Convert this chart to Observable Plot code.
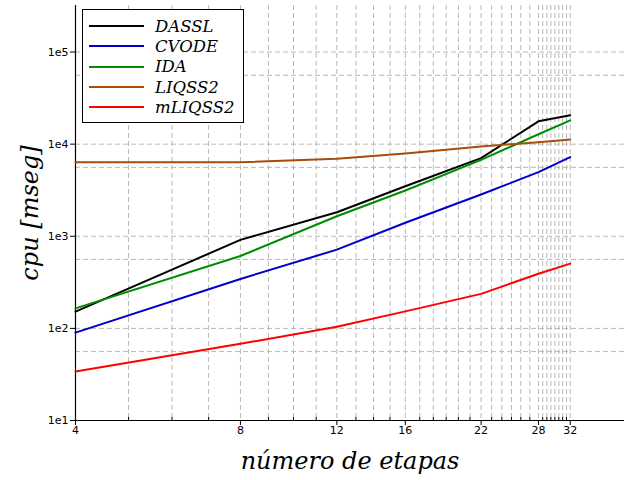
<!DOCTYPE html>
<html>
<head>
<meta charset="utf-8">
<script src="https://cdn.jsdelivr.net/npm/d3@7"></script>
<script src="https://cdn.jsdelivr.net/npm/@observablehq/plot@0.6"></script>
<style>
  html, body { margin: 0; padding: 0; background: #fff; }
  #wrap { position: relative; width: 624px; height: 480px; }
  #legend {
    position: absolute; left: 82px; top: 9px; width: 162px; height: 114px;
    box-sizing: border-box; border: 1px solid #000; background: #fff;
    padding-top: 6px; padding-left: 6px;
    font-family: "DejaVu Serif", serif; font-style: italic; font-size: 16.5px;
  }
  .row { display: flex; align-items: center; height: 20.3px; }
  .sw { width: 55px; height: 2px; margin-right: 11px; }
</style>
</head>
<body>
<div id="wrap"></div>
<script>
// ---- data ----
const steps   = [4, 8, 12, 16, 22, 28, 32];
const series  = ["DASSL", "CVODE", "IDA", "LIQSS2", "mLIQSS2"];
const colors  = ["#000000", "#0000cc", "#008c00", "#a84c0c", "#ff0000"];
const dassl   = [152, 914, 1820, 3490, 7050, 17700, 20600];
const cvode   = [90, 344, 716, 1400, 2840, 4970, 7230];
const ida     = [165, 610, 1650, 3140, 6760, 12800, 18100];
const liqss2  = [6370, 6370, 6940, 7930, 9440, 10500, 11200];
const mliqss2 = [34, 68, 104, 153, 237, 392, 505];
const majorX  = [4, 8, 12, 16, 22, 28, 32];
const minorX  = [5,6,7,9,10,11,13,14,15,17,18,19,20,21,23,24,25,26,27,28.5,29,29.5,30,30.5,31,31.5];
const majorY  = [1e1, 1e2, 1e3, 1e4, 1e5];
const minorY  = [56, 560, 5600, 56000];
const xLabel  = "número de etapas";
const yLabel  = "cpu [mseg]";

const valuesBySeries = [dassl, cvode, ida, liqss2, mliqss2];
const table = [];
series.forEach((s, i) => steps.forEach((x, j) => table.push({series: s, x, y: valuesBySeries[i][j]})));

const grid = {stroke: "#b8b8b8", strokeOpacity: 1, strokeDasharray: "5,3", strokeWidth: 1};

const chart = Plot.plot({
  width: 624, height: 480,
  marginLeft: 75, marginRight: 0, marginTop: 5, marginBottom: 60,
  style: {fontFamily: "DejaVu Sans, sans-serif", fontSize: "11px", color: "#000", background: "#fff"},
  x: {type: "log", domain: [4, 40.2]},
  y: {type: "log", domain: [10, 3.2e5]},
  color: {domain: series, range: colors},
  marks: [
    Plot.gridX([...majorX, ...minorX], grid),
    Plot.gridY([...majorY, ...minorY], grid),
    Plot.axisY(majorY, {tickSize: 5, tickPadding: 2, tickFormat: d => "1e" + Math.round(Math.log10(d)), label: null, fontSize: 11}),
    Plot.axisX(majorX, {tickSize: 5, text: null, label: null}),
    Plot.text(majorX, {x: d => d, frameAnchor: "bottom", dy: 13, text: d => String(d), fontSize: 11}),
    Plot.axisX(minorX, {tickSize: 4, dy: -3, text: null, label: null}),
    Plot.ruleY([10], {stroke: "#000", strokeWidth: 1.2}),
    Plot.ruleX([4], {stroke: "#000", strokeWidth: 1.2}),
    Plot.line(table, {x: "x", y: "y", z: "series", stroke: "series", strokeWidth: 2}),
    Plot.text([xLabel], {frameAnchor: "bottom", dy: 41, lineAnchor: "middle", text: d => d,
      fontFamily: "DejaVu Serif, serif", fontStyle: "italic", fontSize: 24}),
    Plot.text([yLabel], {frameAnchor: "left", dx: -45, rotate: -90, lineAnchor: "middle", textAnchor: "middle", text: d => d,
      fontFamily: "DejaVu Serif, serif", fontStyle: "italic", fontSize: 24})
  ]
});

const wrap = document.getElementById("wrap");
wrap.appendChild(chart);

const legend = document.createElement("div");
legend.id = "legend";
series.forEach((s, i) => {
  const row = document.createElement("div");
  row.className = "row";
  const sw = document.createElement("div");
  sw.className = "sw";
  sw.style.background = colors[i];
  const t = document.createElement("span");
  t.textContent = s;
  row.appendChild(sw); row.appendChild(t);
  legend.appendChild(row);
});
wrap.appendChild(legend);
</script>
</body>
</html>
